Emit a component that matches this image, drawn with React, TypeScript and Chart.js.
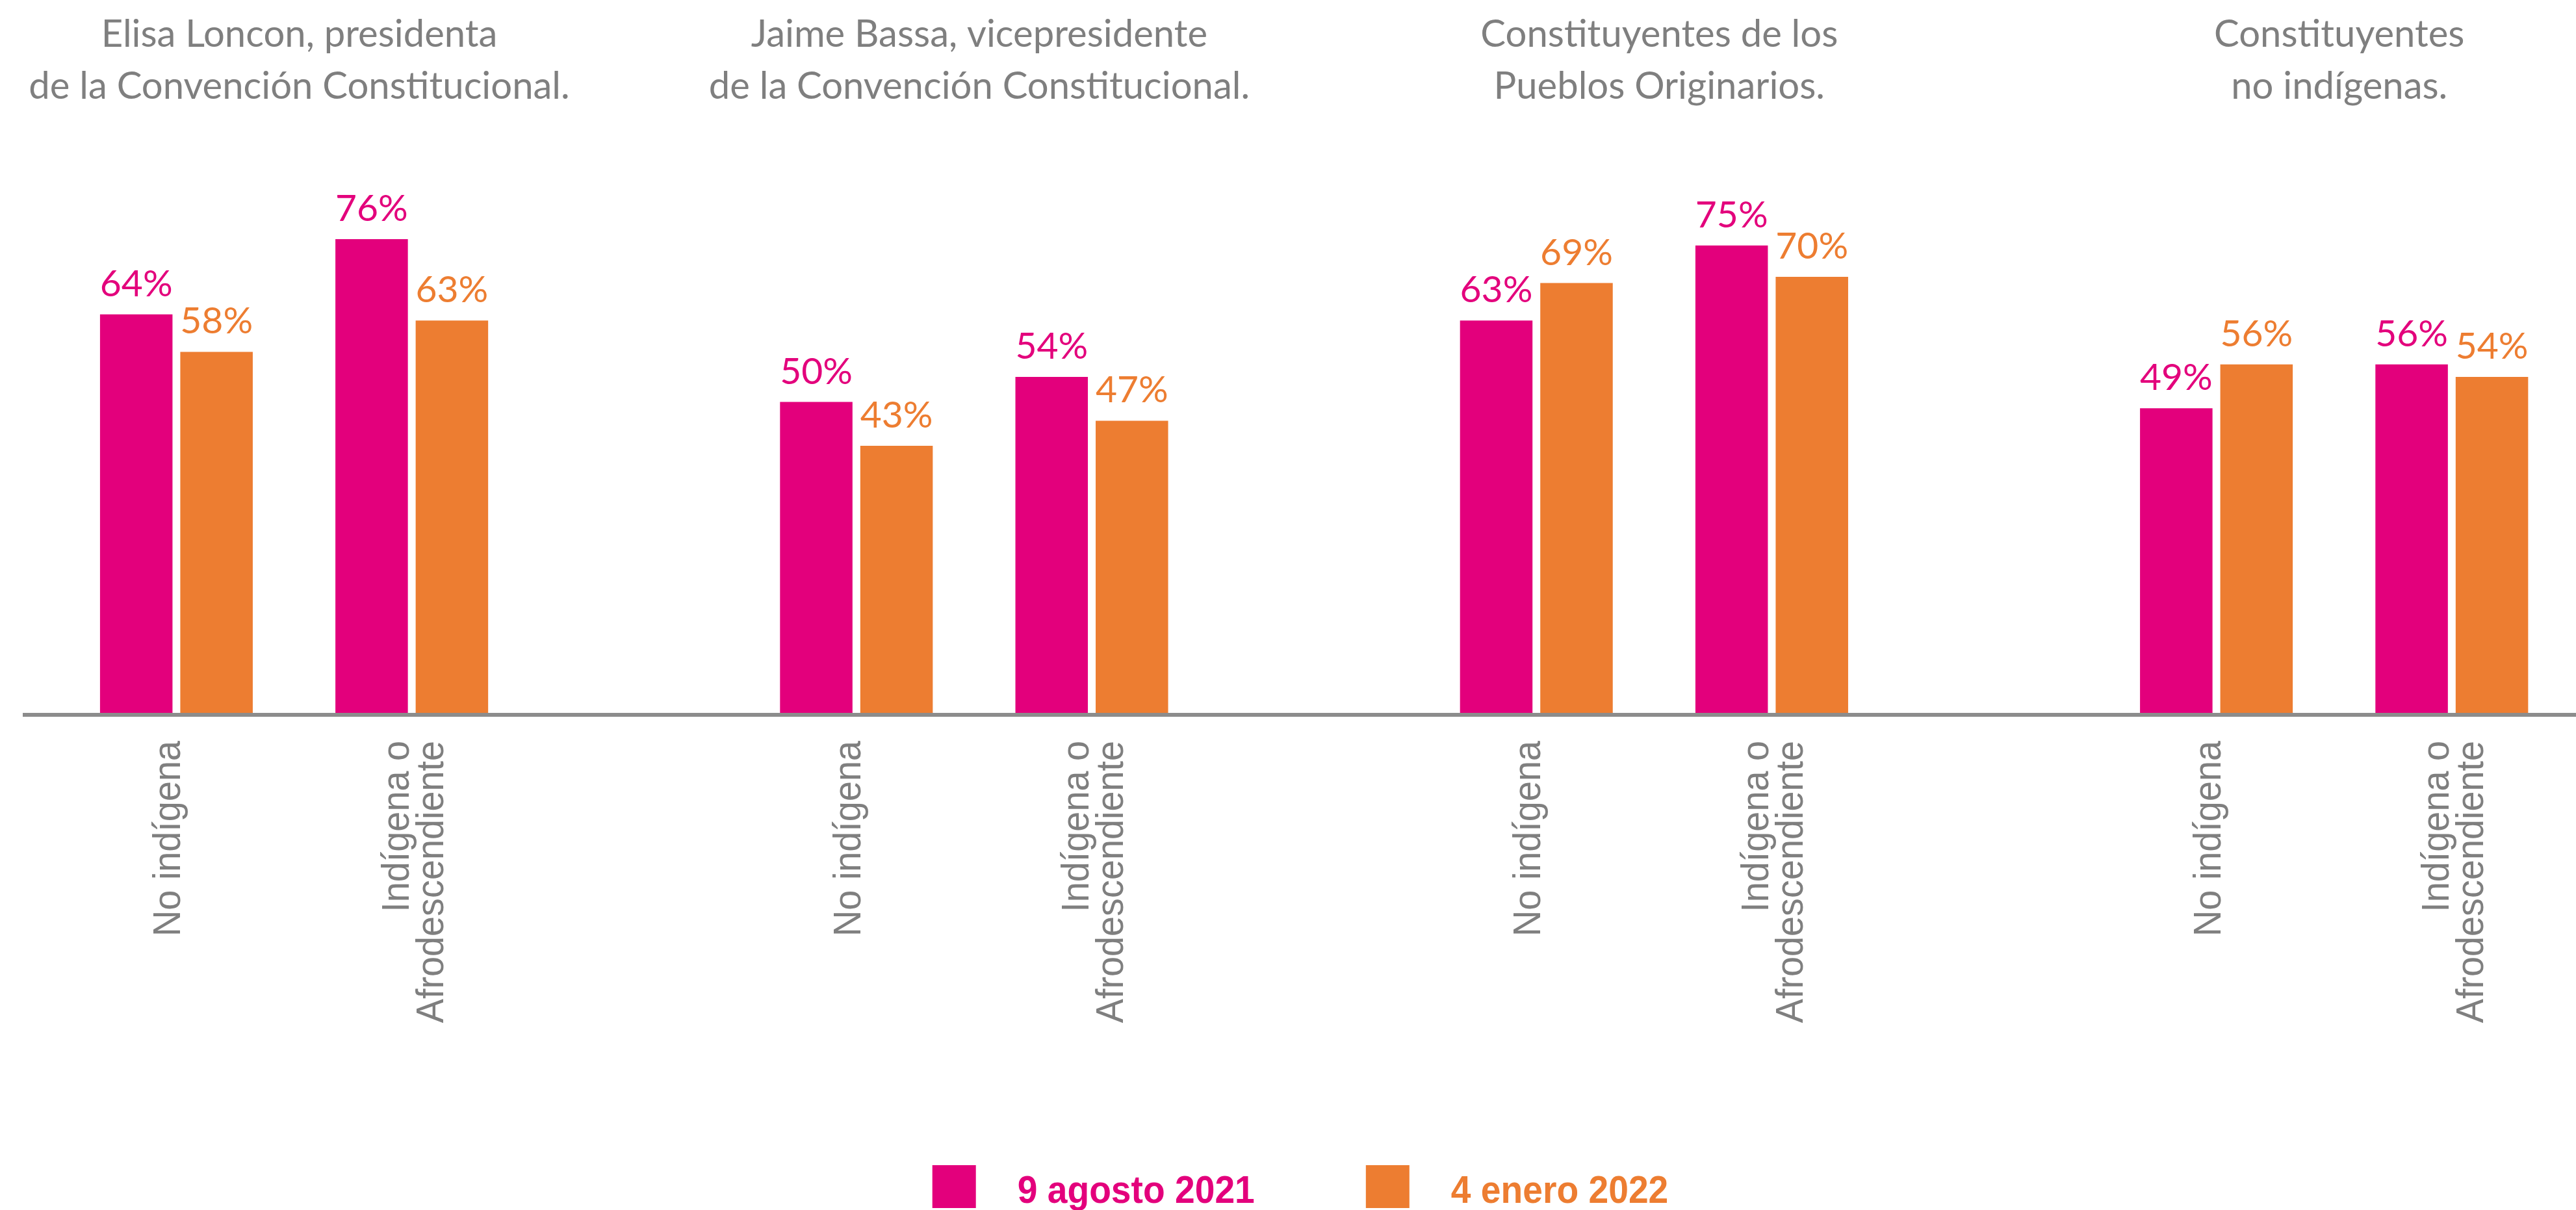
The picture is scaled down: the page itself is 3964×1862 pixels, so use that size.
import React, { useEffect, useRef } from "react";
import { Chart, registerables } from "chart.js";

Chart.register(...registerables);

// ---------------- data ----------------
const groupTitles: string[][] = [
  ["Elisa Loncon, presidenta", "de la Convención Constitucional."],
  ["Jaime Bassa, vicepresidente", "de la Convención Constitucional."],
  ["Constituyentes de los", "Pueblos Originarios."],
  ["Constituyentes", "no indígenas."],
];
const categories: string[][] = [["No indígena"], ["Indígena o", "Afrodescendiente"]];
const seriesNames = ["9 agosto 2021", "4 enero 2022"];
const agosto2021 = [64, 76, 50, 54, 63, 75, 49, 56];
const enero2022 = [58, 63, 43, 47, 69, 70, 56, 54];

// ---------------- layout / style ----------------
const W = 3964;
const H = 1862;
const PINK = "#E3007C";
const ORANGE = "#ED7D31";
const GRAY = "#7F7F7F";
const AXIS = "#8C8C8C";
const CAT_STEP = 9;
const GROUP_STEP = 26;
const xOf = (i: number) => Math.floor(i / 2) * GROUP_STEP + (i % 2) * CAT_STEP;

const overlay = {
  id: "overlay",
  afterDraw(chart: any) {
    const ctx: CanvasRenderingContext2D = chart.ctx;
    const xs = chart.scales.x;
    const area = chart.chartArea;

    // value labels
    chart.data.datasets.forEach((ds: any, d: number) => {
      const meta = chart.getDatasetMeta(d);
      ctx.save();
      ctx.font = "57px Lato";
      ctx.fillStyle = ds.backgroundColor;
      ctx.textAlign = "center";
      ctx.textBaseline = "alphabetic";
      meta.data.forEach((bar: any, i: number) => {
        const v = ds.data[i].y;
        ctx.fillText(v + "%", bar.x, bar.y - 28);
      });
      ctx.restore();
    });

    // category labels (rotated)
    const n = agosto2021.length;
    for (let i = 0; i < n; i++) {
      const px = xs.getPixelForValue(xOf(i));
      const lines = categories[i % 2];
      ctx.save();
      ctx.fillStyle = GRAY;
      ctx.font = '60px "Liberation Sans", Arial, sans-serif';
      ctx.textAlign = "right";
      ctx.textBaseline = "alphabetic";
      lines.forEach((line, j) => {
        const bx = px + 6 + j * 53 - (lines.length - 1) * 11;
        ctx.save();
        ctx.translate(bx, area.bottom + 40);
        ctx.rotate(-Math.PI / 2);
        ctx.scale(0.93, 1);
        ctx.fillText(line, 0, 0);
        ctx.restore();
      });
      ctx.restore();
    }

    // group titles
    ctx.save();
    ctx.fillStyle = GRAY;
    ctx.font = "58px Lato";
    ctx.textAlign = "center";
    ctx.textBaseline = "alphabetic";
    groupTitles.forEach((lines, g) => {
      const c = (xs.getPixelForValue(xOf(2 * g)) + xs.getPixelForValue(xOf(2 * g + 1))) / 2 + 8;
      lines.forEach((line, j) => ctx.fillText(line, c, 72 + j * 80));
    });
    ctx.restore();

    // legend
    ctx.save();
    const sx = 0.92;
    ctx.font = 'bold 60px "Liberation Sans", Arial, sans-serif';
    const colors = chart.data.datasets.map((ds: any) => ds.backgroundColor);
    const names = chart.data.datasets.map((ds: any) => ds.label);
    const widths = names.map((t: string) => ctx.measureText(t).width * sx);
    const box = 67;
    const gap = 64;
    const between = 171;
    const total = widths.reduce((a: number, w: number) => a + box + gap + w, 0) + between * (names.length - 1);
    let x = (area.left + area.right) / 2 - total / 2;
    names.forEach((t: string, k: number) => {
      ctx.fillStyle = colors[k];
      ctx.fillRect(x, 1793, box, 66);
      ctx.save();
      ctx.translate(x + box + gap, 1851);
      ctx.scale(sx, 1);
      ctx.textAlign = "left";
      ctx.textBaseline = "alphabetic";
      ctx.fillText(t, 0, 0);
      ctx.restore();
      x += box + gap + widths[k] + between;
    });
    ctx.restore();
  },
};

export default function App() {
  const ref = useRef<HTMLCanvasElement>(null);
  useEffect(() => {
    const chart = new Chart(ref.current as HTMLCanvasElement, {
      type: "bar",
      data: {
        datasets: [
          {
            label: seriesNames[0],
            data: agosto2021.map((v, i) => ({ x: xOf(i), y: v })),
            backgroundColor: PINK,
            borderWidth: 0,
            categoryPercentage: 0.682,
            barPercentage: 0.903,
          },
          {
            label: seriesNames[1],
            data: enero2022.map((v, i) => ({ x: xOf(i), y: v })),
            backgroundColor: ORANGE,
            borderWidth: 0,
            categoryPercentage: 0.682,
            barPercentage: 0.903,
          },
        ],
      } as any,
      options: {
        responsive: false,
        animation: false,
        devicePixelRatio: 1,
        layout: { padding: { left: 38, right: 0, top: 137, bottom: 762 } },
        plugins: {
          legend: { display: false },
          tooltip: { enabled: false },
          title: { display: false },
        },
        scales: {
          x: {
            type: "linear",
            min: -5.8,
            max: 91.75,
            offset: false,
            bounds: "data",
            grid: { display: false, drawTicks: false, tickLength: 0 },
            border: { display: true, color: AXIS, width: 6, z: 1 },
            ticks: { display: false },
            afterBuildTicks: (s: any) => {
              s.ticks = agosto2021.map((_, i) => ({ value: xOf(i) }));
            },
            afterFit: (s: any) => {
              s.height = 0;
            },
          },
          y: { display: false, min: 0, max: 100 },
        },
      } as any,
      plugins: [overlay],
    });
    return () => chart.destroy();
  }, []);
  return (
    <div style={{ position: "fixed", left: 0, top: 0, width: W, height: H, background: "#fff" }}>
      <canvas ref={ref} width={W} height={H} style={{ width: W, height: H, display: "block" }} />
    </div>
  );
}
